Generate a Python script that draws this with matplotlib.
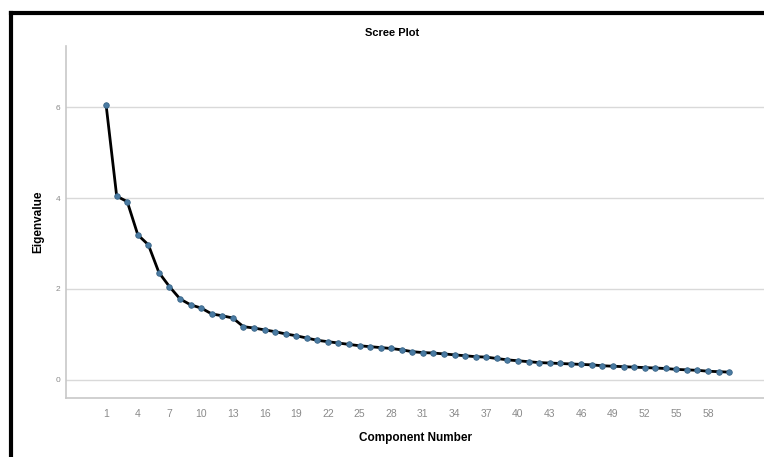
import numpy as np
import matplotlib
matplotlib.use("Agg")
import matplotlib.pyplot as plt
from matplotlib.lines import Line2D

plt.rcParams['font.family'] = ['Liberation Sans', 'DejaVu Sans']

# eigenvalues, components 1..60
components = list(range(1, 61))
eigenvalues = [
    6.04, 4.04, 3.92, 3.19, 2.97, 2.36, 2.05, 1.78, 1.65, 1.58,
    1.45, 1.41, 1.36, 1.17, 1.14, 1.10, 1.06, 1.01, 0.97, 0.92,
    0.87, 0.84, 0.81, 0.78, 0.75, 0.73, 0.71, 0.69, 0.66, 0.62,
    0.60, 0.59, 0.57, 0.55, 0.53, 0.51, 0.50, 0.47, 0.44, 0.42,
    0.40, 0.38, 0.37, 0.36, 0.35, 0.34, 0.33, 0.31, 0.30, 0.29,
    0.28, 0.27, 0.26, 0.25, 0.23, 0.22, 0.21, 0.19, 0.18, 0.17,
]
x_ticks = components[::3]
y_ticks = [0, 2, 4, 6]

fig = plt.figure(figsize=(7.64, 4.57), dpi=100)
ax = fig.add_axes([0.0864, 0.129, 0.9136, 0.77])

ax.plot(components, eigenvalues, color='black', linewidth=2.0, zorder=3,
        marker='o', markersize=4.0, markerfacecolor='#4a7ba3',
        markeredgecolor='#3a6688', markeredgewidth=0.6)

ax.set_xlim(-2.8, 63.3)
ax.set_ylim(-0.4, 7.34)
ax.set_xticks(x_ticks)
ax.set_yticks(y_ticks)
ax.tick_params(axis='both', length=0, colors='#8a8a8a', labelsize=7.5)
ax.tick_params(axis='x', pad=8)
ax.tick_params(axis='y', labelsize=6, pad=4)
ax.grid(axis='y', color='#d9d9d9', linewidth=1.0)
ax.set_axisbelow(True)

for side in ['top', 'right']:
    ax.spines[side].set_visible(False)
for side in ['left', 'bottom']:
    ax.spines[side].set_color('#c8c8c8')
    ax.spines[side].set_linewidth(1.2)

ax.set_xlabel('Component Number', fontsize=8.5, fontweight='bold', labelpad=9)
ax.set_ylabel('Eigenvalue', fontsize=8.5, fontweight='bold', labelpad=8)
fig.text(0.513, 0.928, 'Scree Plot', ha='center', va='center',
         fontsize=8, fontweight='bold')

# black frame at top and left of the screenshot
fig.add_artist(Line2D([0.0144, 1.0], [0.9705, 0.9705], color='black',
                      linewidth=3, transform=fig.transFigure))
fig.add_artist(Line2D([0.0144, 0.0144], [0.0, 0.9705], color='black',
                      linewidth=3, transform=fig.transFigure))

fig.savefig('out.png', dpi=100)
